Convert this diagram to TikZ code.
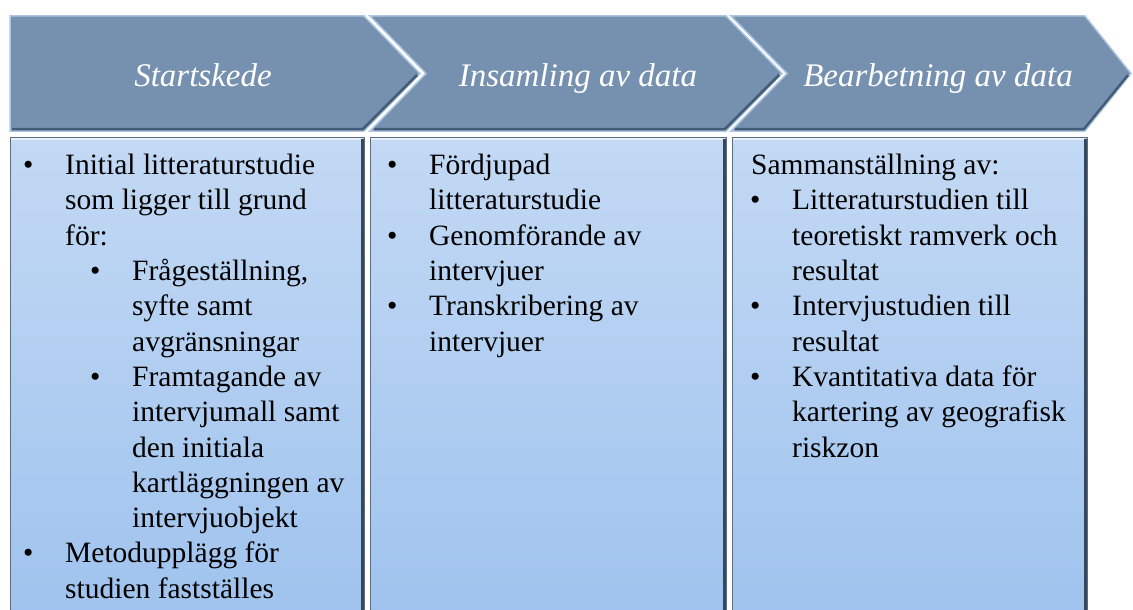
\documentclass[tikz,border=0pt]{standalone}
\usepackage{fontspec}
\setmainfont{Liberation Serif}
\usepackage{tikz}
\usetikzlibrary{positioning,calc}

\definecolor{hdrblue}{HTML}{7591AF}
\definecolor{hdrlight}{HTML}{AFC7E2}
\definecolor{hdrdark}{HTML}{435C78}
\definecolor{boxtop}{HTML}{C3D9F4}
\definecolor{boxbot}{HTML}{9FC3EE}
\definecolor{boxdark}{HTML}{34495F}

% bullets and indents for the lists
\newcommand{\blt}{\makebox[47pt][l]{\hspace{5pt}\textbullet}}
\newcommand{\indA}{\hspace*{47pt}}
\newcommand{\indB}{\hspace*{67pt}}
\newcommand{\indC}{\hspace*{114pt}}

\begin{document}
\begin{tikzpicture}[x=1pt,y=1pt,
    hdr/.style={fill=hdrblue, draw=hdrlight, line width=1.5pt, line join=miter},
    hdrshade/.style={draw=hdrdark, line width=2.5pt},
    hdrtxt/.style={text=white, font=\fontsize{33}{40}\selectfont\itshape, anchor=base, inner sep=0pt},
    body/.style={top color=boxtop, bottom color=boxbot, draw=boxdark!80, line width=0.8pt},
    bodyshade/.style={draw=boxdark, line width=3pt},
    bodytxt/.style={anchor=north west, inner sep=0pt, align=left, font=\fontsize{29.5}{35.3}\selectfont}]
    \useasboundingbox (0,0) rectangle (1133,-610);
    \fill[white] (0,0) rectangle (1133,-610);

    % Header chevrons
    \draw[hdr] (10,-16) -- (364,-16) -- (420,-73.5) -- (364,-131) -- (10,-131) -- cycle;
    \draw[hdr] (370,-16) -- (726,-16) -- (782,-73.5) -- (726,-131) -- (370,-131) -- (426,-73.5) -- cycle;
    \draw[hdr] (731,-16) -- (1085,-16) -- (1131,-73.5) -- (1085,-131) -- (731,-131) -- (787,-73.5) -- cycle;
    \draw[hdrshade] (12,-129) -- (363,-129) -- (417,-75);
    \draw[hdrshade] (374,-129) -- (725,-129) -- (779,-75);
    \draw[hdrshade] (735,-129) -- (1084,-129) -- (1128,-75);

    \node[hdrtxt] (fas1) at (203,-87) {Startskede};
    \node[hdrtxt] (fas2) at (578,-87) {Insamling av data};
    \node[hdrtxt] (fas3) at (938,-87) {Bearbetning av data};

    % Body boxes
    \draw[body] (10,-137) rectangle (364,-614);
    \draw[body] (370,-137) rectangle (726,-614);
    \draw[body] (732,-137) rectangle (1087,-614);
    \draw[bodyshade] (362.5,-139) -- (362.5,-614);
    \draw[bodyshade] (724.5,-139) -- (724.5,-614);
    \draw[bodyshade] (1085.5,-139) -- (1085.5,-614);
    \draw[white!60!boxtop, line width=2pt] (11,-139) -- (361,-139);
    \draw[white!60!boxtop, line width=2pt] (371,-139) -- (723,-139);
    \draw[white!60!boxtop, line width=2pt] (733,-139) -- (1084,-139);

    \node[bodytxt] (lista1) at (18,-154) {\blt Initial litteraturstudie\\
        \indA som ligger till grund\\
        \indA för:\\
        \indB\blt Frågeställning,\\
        \indC syfte samt\\
        \indC avgränsningar\\
        \indB\blt Framtagande av\\
        \indC intervjumall samt\\
        \indC den initiala\\
        \indC kartläggningen av\\
        \indC intervjuobjekt\\
        \blt Metodupplägg för\\
        \indA studien fastställes};

    \node[bodytxt] (lista2) at (382,-154) {\blt Fördjupad\\
        \indA litteraturstudie\\
        \blt Genomförande av\\
        \indA intervjuer\\
        \blt Transkribering av\\
        \indA intervjuer};

    \node[bodytxt] (lista3) at (745,-154) {\hspace*{6pt}Sammanställning av:\\
        \blt Litteraturstudien till\\
        \indA teoretiskt ramverk och\\
        \indA resultat\\
        \blt Intervjustudien till\\
        \indA resultat\\
        \blt Kvantitativa data för\\
        \indA kartering av geografisk\\
        \indA riskzon};
\end{tikzpicture}
\end{document}
